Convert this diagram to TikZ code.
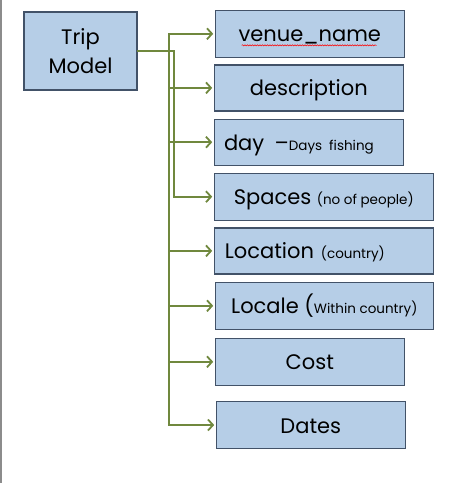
\documentclass[tikz,border=0pt]{standalone}
\usepackage{fontspec}
\setmainfont{Poppins}
\usetikzlibrary{arrows.meta,decorations.pathmorphing}
\definecolor{boxfill}{RGB}{182,206,231}
\definecolor{boxdraw}{RGB}{66,82,104}
\definecolor{conncol}{RGB}{112,136,62}
\newcommand{\sm}{\fontsize{13.5}{15}\selectfont}
\begin{document}
\begin{tikzpicture}[x=1pt,y=-1pt,
  box/.style={draw=boxdraw, fill=boxfill, line width=1.2pt, inner sep=0pt,
    minimum height=47pt, font=\fontsize{21}{24}\selectfont},
  fld/.style={box, text height=18pt, text depth=2pt},
  link/.style={draw=conncol, line width=2pt, line cap=rect,
    -{Straight Barb[length=5pt,width=11pt,line width=1.8pt]}, shorten >=1.5pt},
  trunk/.style={draw=conncol, line width=2pt, line cap=rect}]
\useasboundingbox (0,0) rectangle (474,483);
\draw[gray!90, line width=1.5pt] (0.75,0) -- (0.75,483);

\node[box, minimum width=113pt, minimum height=78pt, align=center,
  font=\fontsize{21}{29}\selectfont] (trip) at (80.5,51) {Trip\\Model};

\node[fld, minimum width=189pt] (venue) at (309.8,33.8) {venue\_name};
\node[fld, minimum width=189pt, minimum height=46pt] (desc) at (308.8,87.9) {description};
\node[fld, minimum height=46pt, inner xsep=9.7pt, text width=169.6pt, align=left] (day) at (308.8,142.2)
  {day\, –{\sm Days fishing}};
\node[fld, minimum width=219pt] (spaces) at (323.8,196.7)
  {Spaces {\sm (no of people)}};
\node[fld, minimum height=46pt, inner xsep=10.5pt, text width=198pt, align=left] (location) at (323.8,250.9)
  {Location {\sm (country)}};
\node[fld, minimum width=218pt] (locale) at (324.3,305.8)
  {Locale ({\sm Within country)}};
\node[fld, minimum width=189pt] (cost) at (309.8,361.8) {Cost};
\node[fld, minimum width=189pt] (dates) at (310.8,425) {Dates};

\draw[red, line width=0.5pt, decorate, decoration={snake, amplitude=0.6pt, segment length=2.5pt}]
  (241.7,45.3) -- (376.7,45.3);

\coordinate (ja) at (169,0);
\coordinate (jb) at (174,0);

\draw[link] (trip.east) -- (trip.east -| jb) |- (spaces.west);
\draw[trunk] (ja |- venue.west) -- (ja |- dates.west);
\draw[link] (ja |- venue.west) -- (venue.west);
\draw[link] (ja |- desc.west) -- (desc.west);
\draw[link] (ja |- day.west) -- (day.west);
\draw[link] (ja |- location.west) -- (location.west);
\draw[link] (ja |- locale.west) -- (locale.west);
\draw[link] (ja |- cost.west) -- (cost.west);
\draw[link] (ja |- dates.west) -- (dates.west);
\end{tikzpicture}
\end{document}
